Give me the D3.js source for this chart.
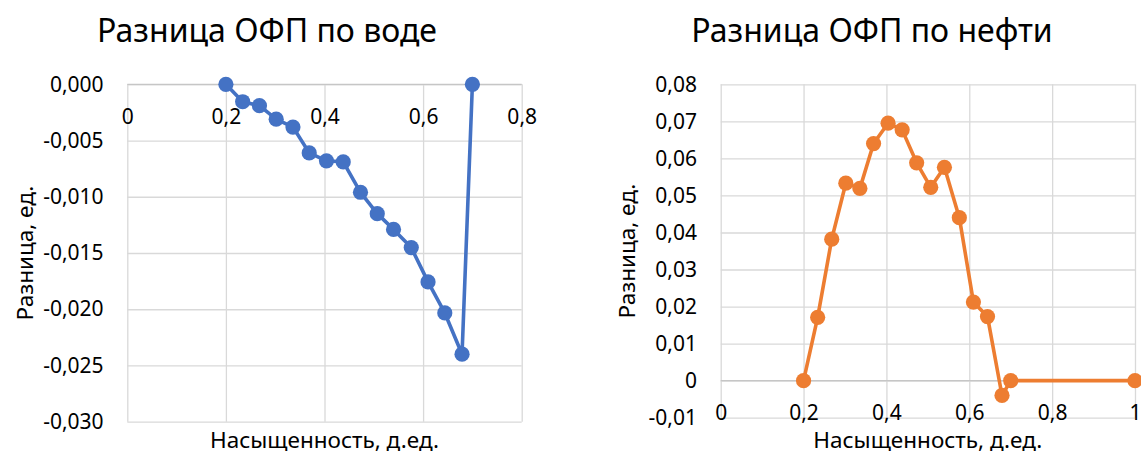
<!DOCTYPE html>
<html>
<head>
<meta charset="utf-8">
<script src="https://cdn.jsdelivr.net/npm/d3@7/dist/d3.min.js"></script>
<style>
  html, body { margin: 0; padding: 0; background: #fff; }
  svg { display: block; font-family: "Noto Sans", "Open Sans", sans-serif; }
  .tick text { fill: #000; }
</style>
</head>
<body>
<svg id="chart" width="1141" height="455"></svg>
<script>
// Saturation points (fraction) shared by both curves
const saturation = [0.200, 0.234, 0.268, 0.302, 0.336, 0.369, 0.404, 0.438, 0.473, 0.507, 0.540, 0.576, 0.610, 0.644, 0.679, 0.700];
// Relative permeability difference for water
const waterDiff = [0, -0.00155, -0.0019, -0.0031, -0.0038, -0.0061, -0.0068, -0.0069, -0.0096, -0.0115, -0.0129, -0.01452, -0.01757, -0.02033, -0.0240, 0];
// Oil curve has one extra point at full saturation
const oilSaturation = [...saturation, 1.0];
const oilDiff = [0, 0.0171, 0.0382, 0.0533, 0.0519, 0.0640, 0.0695, 0.0677, 0.0588, 0.0522, 0.0576, 0.0440, 0.0212, 0.0173, -0.0040, 0, 0];

// Tick values
const waterXTicks = [0, 0.2, 0.4, 0.6, 0.8];
const waterYTicks = [0, -0.005, -0.010, -0.015, -0.020, -0.025, -0.030];
const oilXTicks = [0, 0.2, 0.4, 0.6, 0.8, 1];
const oilYTicks = [0.08, 0.07, 0.06, 0.05, 0.04, 0.03, 0.02, 0.01, 0, -0.01];

const titles = ["Разница ОФП по воде", "Разница ОФП по нефти"];
const xTitle = "Насыщенность, д.ед.";
const yTitle = "Разница, ед.";

const locale = d3.formatLocale({decimal: ",", thousands: " ", grouping: [3], currency: ["", ""], minus: "-"});
const fmtX = locale.format("~g");
const fmt3 = locale.format(".3f");
const fmt2 = locale.format(".2f");

const svg = d3.select("#chart");
svg.append("rect").attr("width", 1141).attr("height", 455).attr("fill", "#fff");

const GRID = "#d9d9d9";
const AXIS = "#c6c6c6";

function drawPanel(cfg) {
  const g = svg.append("g");
  const x = d3.scaleLinear().domain(cfg.xDomain).range([cfg.left, cfg.right]);
  const y = d3.scaleLinear().domain(cfg.yDomain).range([cfg.bottom, cfg.top]);

  // horizontal gridlines
  g.append("g")
    .attr("transform", `translate(${cfg.left},0)`)
    .call(d3.axisLeft(y).tickValues(cfg.yTicks).tickSize(-(cfg.right - cfg.left)).tickFormat(""))
    .call(a => a.select(".domain").remove())
    .call(a => a.selectAll("line").attr("stroke", GRID).attr("stroke-width", 1.3));

  // vertical gridlines
  g.append("g")
    .attr("transform", `translate(0,${cfg.bottom})`)
    .call(d3.axisBottom(x).tickValues(cfg.xTicks).tickSize(-(cfg.bottom - cfg.top)).tickFormat(""))
    .call(a => a.select(".domain").remove())
    .call(a => a.selectAll("line").attr("stroke", GRID).attr("stroke-width", 1.3));

  // horizontal axis line at zero
  g.append("line")
    .attr("x1", cfg.left).attr("x2", cfg.right)
    .attr("y1", y(0)).attr("y2", y(0))
    .attr("stroke", AXIS).attr("stroke-width", 1.3);

  // y tick labels
  g.append("g")
    .attr("transform", `translate(${cfg.left},0)`)
    .call(d3.axisLeft(y).tickValues(cfg.yTicks).tickSize(0).tickPadding(23.7).tickFormat(cfg.yFormat))
    .call(a => a.select(".domain").remove())
    .call(a => a.selectAll("text").attr("font-size", 21).attr("font-family", "Noto Sans"));

  // x tick labels, hung below the zero line
  g.append("g")
    .attr("transform", `translate(0,${y(0)})`)
    .call(d3.axisBottom(x).tickValues(cfg.xTicks).tickSize(0).tickPadding(24.5).tickFormat(fmtX))
    .call(a => a.select(".domain").remove())
    .call(a => a.selectAll("text").attr("font-size", 21).attr("font-family", "Noto Sans"));

  // titles
  g.append("text")
    .attr("x", cfg.titleX).attr("y", 41.5)
    .attr("text-anchor", "middle")
    .attr("font-size", 32)
    .text(cfg.title);

  g.append("text")
    .attr("x", (cfg.left + cfg.right) / 2).attr("y", 448)
    .attr("text-anchor", "middle")
    .attr("font-size", 22.5)
    .text(xTitle);

  g.append("text")
    .attr("transform", `translate(${cfg.yTitleX},${(cfg.top + cfg.bottom) / 2}) rotate(-90)`)
    .attr("text-anchor", "middle")
    .attr("dy", "0.35em")
    .attr("font-size", 22.5)
    .text(yTitle);

  // series
  const pts = cfg.xs.map((v, i) => [v, cfg.ys[i]]);
  g.append("path")
    .datum(pts)
    .attr("fill", "none")
    .attr("stroke", cfg.color)
    .attr("stroke-width", 3.6)
    .attr("stroke-linejoin", "round")
    .attr("d", d3.line().x(d => x(d[0])).y(d => y(d[1])));

  g.append("g").selectAll("circle")
    .data(pts)
    .join("circle")
    .attr("cx", d => x(d[0]))
    .attr("cy", d => y(d[1]))
    .attr("r", 7.6)
    .attr("fill", cfg.color);
}

drawPanel({
  title: titles[0], titleX: 267, yTitleX: 25,
  left: 127.3, right: 521.7, top: 84.3, bottom: 421.7,
  xDomain: [0, 0.8], yDomain: [-0.030, 0],
  xTicks: waterXTicks, yTicks: waterYTicks,
  yFormat: fmt3,
  xs: saturation, ys: waterDiff, color: "#4472C4"
});

drawPanel({
  title: titles[1], titleX: 872, yTitleX: 627,
  left: 720.7, right: 1135, top: 84.3, bottom: 417.7,
  xDomain: [0, 1], yDomain: [-0.01, 0.08],
  xTicks: oilXTicks, yTicks: oilYTicks,
  yFormat: v => (v === 0 ? "0" : fmt2(v)),
  xs: oilSaturation, ys: oilDiff, color: "#ED7D31"
});
</script>
</body>
</html>
